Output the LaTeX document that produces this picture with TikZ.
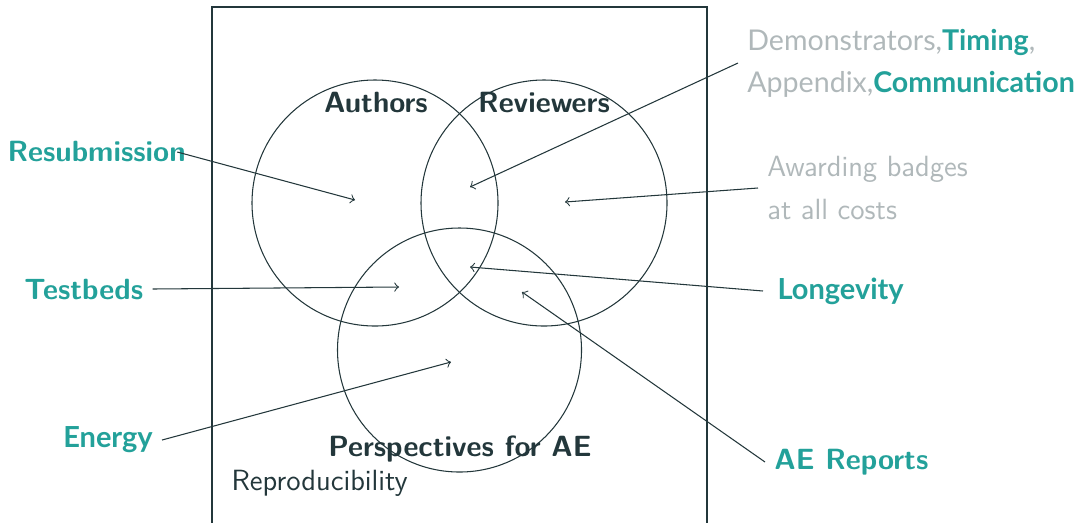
\documentclass[tikz,border=0pt]{standalone}
\usepackage{fontspec}
\newfontfamily\latofont{Lato}
\definecolor{aeteal}{RGB}{35,161,154}
\definecolor{aedark}{RGB}{35,55,59}
\definecolor{aegrey}{RGB}{176,184,186}
\tikzset{
  hot/.style = {font=\sffamily\bfseries\fontsize{11.1}{13}\selectfont, text=aeteal},
  hotlato/.style = {font=\latofont\bfseries\fontsize{11}{13}\selectfont, text=aeteal},
  cold/.style = {font=\sffamily\fontsize{11.1}{16}\selectfont, text=aegrey, align=left},
  title/.style = {font=\sffamily\bfseries\fontsize{11.1}{13}\selectfont, text=aedark},
  ring/.style = {draw=aedark, circle, minimum size=246*0.01333cm, inner sep=0pt}
}
\begin{document}
\begin{tikzpicture}[x=0.01333cm, y=-0.01333cm, aedark, >=to]
  \useasboundingbox (0,0) rectangle (1081,522);
  \draw (212,540) -- (212,7) -- (707,7) -- (707,540);

  % the three sets
  \node [ring] (authors)   at (375,203) {};
  \node [ring] (reviewers) at (544,203) {};
  \node [ring, minimum size=244*0.01333cm] (persp) at (459.5,350) {};
  \node [title] (authorslbl)   at (376,103) {Authors};
  \node [title] (reviewerslbl) at (544,103) {Reviewers};
  \node [title] (persplbl)     at (460,449) {Perspectives for AE};
  \node [font=\sffamily\fontsize{11.1}{13}\selectfont, anchor=west, inner sep=0pt] (repro) at (231,483) {Reproducibility};

  % labels around
  \node [hot, anchor=west, inner sep=0pt] (resub) at (7,152) {Resubmission};
  \node [hot, anchor=west] (testbeds) at (15,289) {Testbeds};
  \node [hotlato, anchor=west] (energy) at (54,440) {Energy};
  \node [cold, anchor=west] (demo) at (738,63)
    {{\latofont\fontsize{10.85}{15.2}\selectfont Demonstrators,\textcolor{aeteal}{\bfseries Timing},}\\
     {\latofont\fontsize{10.85}{15.2}\selectfont Appendix,\textcolor{aeteal}{\bfseries Communication}}};
  \node [cold, anchor=west] (award) at (758,188) {Awarding badges\\at all costs};
  \node [hotlato, anchor=west, inner sep=5.3pt] (longev) at (763,291) {Longevity};
  \node [hot, anchor=west] (aereports) at (765,462) {AE Reports};

  \coordinate (t-resub) at (355,200);
  \coordinate (t-demo) at (470,187);
  \coordinate (t-award) at (565,202);
  \coordinate (t-testbeds) at (399,287);
  \coordinate (t-longev) at (470,267);
  \coordinate (t-energy) at (451,362);
  \coordinate (t-aereports) at (522,292);

  \draw [->] ([xshift=-9*0.01333cm]resub.east) -- (t-resub);
  \draw [->] (demo.west) -- (t-demo);
  \draw [->] (award.west) -- (t-award);
  \draw [->] (testbeds.east) -- (t-testbeds);
  \draw [->] (longev.west) -- (t-longev);
  \draw [->] (energy.east) -- (t-energy);
  \draw [->] (aereports.west) -- (t-aereports);
\end{tikzpicture}
\end{document}
